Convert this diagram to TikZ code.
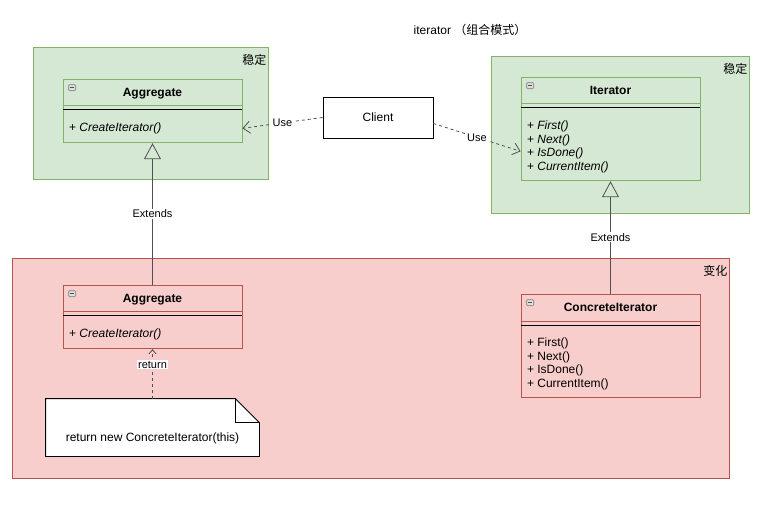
\documentclass[tikz,border=0pt]{standalone}
\usepackage{fontspec}
\setmainfont{Liberation Sans}
\newfontfamily\cjk{Noto Sans CJK SC}
\usetikzlibrary{positioning, arrows.meta, calc}
\definecolor{Stable-fill}{RGB}{213,232,212}
\definecolor{Stable-line}{RGB}{130,179,102}
\definecolor{Change-fill}{RGB}{248,206,204}
\definecolor{Change-line}{RGB}{184,84,80}
\definecolor{Link}{RGB}{80,80,80}

\tikzset{
  zone/.style={draw=#1-line, fill=#1-fill, rectangle, anchor=north west, inner sep=0pt},
  zonetag/.style={anchor=north east, inner sep=2pt, yshift=-5pt, font=\fontsize{12}{14}\selectfont\cjk},
  classhead/.style={draw=#1, rectangle, minimum width=179pt, minimum height=26pt, inner sep=0pt, text height=8.6pt, text depth=0pt, font=\fontsize{12}{14}\selectfont\bfseries},
  classbody/.style={draw=#1, rectangle, minimum width=179pt, inner sep=0pt},
  members/.style={anchor=north west, inner sep=0pt, align=left, font=\fontsize{12}{13.7}\selectfont},
  collapse/.style={draw=gray!80, fill=gray!25, rounded corners=1pt, minimum width=7pt, minimum height=6pt, inner sep=0pt,
    path picture={\draw[line width=0.8pt, black!70] ([xshift=1.5pt]path picture bounding box.west) -- ([xshift=-1.5pt]path picture bounding box.east);}},
  lbl/.style={fill=white, inner sep=1pt, font=\fontsize{11}{13}\selectfont},
  extends/.style={draw=Link, line width=1.2pt, -{Triangle[open, length=16pt, width=17pt, line width=0.8pt]}},
  uses/.style={draw=Link, dashed, -{Straight Barb[length=7pt, width=12pt]}},
}

\begin{document}
\begin{tikzpicture}[x=1pt, y=-1pt, line width=0.8pt]
      \useasboundingbox (0,0) rectangle (767,511);

      \node[font=\fontsize{12}{14}\selectfont] (title) at (470,30) {iterator \cjk（组合模式）};

      \node[zone=Stable, minimum width=235pt, minimum height=132pt, label={[zonetag]north east:稳定}] (stableleft)  at ( 33, 47) {};
      \node[zone=Stable, minimum width=258pt, minimum height=157pt, label={[zonetag]north east:稳定}] (stableright) at (491, 56) {};
      \node[zone=Change, minimum width=717pt, minimum height=220pt, label={[zonetag]north east:变化}] (change)      at ( 12,258) {};

      % abstract side
      \node[classhead=Stable-line] (agghead) at (152.5, 92) {Aggregate};
      \node[classbody=Stable-line, minimum height=37pt, below=0pt of agghead] (aggbody) {};
      \node[members] (aggmem) at ([xshift=6pt, yshift=-17pt]agghead.south west) {+ \textit{CreateIterator()}};
      \node[collapse] (aggmin) at ([xshift=9.5pt, yshift=-9pt]agghead.north west) {};
      \draw ([yshift=-4pt]agghead.south west) -- ([yshift=-4pt]agghead.south east);

      \node[classhead=Stable-line] (ithead) at (610.5, 90) {Iterator};
      \node[classbody=Stable-line, minimum height=77pt, below=0pt of ithead] (itbody) {};
      \node[members] (itmem) at ([xshift=6pt, yshift=-17pt]ithead.south west) {+ \textit{First()}\\+ \textit{Next()}\\+ \textit{IsDone()}\\+ \textit{CurrentItem()}};
      \node[collapse] (itmin) at ([xshift=9.5pt, yshift=-9pt]ithead.north west) {};
      \draw ([yshift=-4pt]ithead.south west) -- ([yshift=-4pt]ithead.south east);

      \node[draw, minimum width=110pt, minimum height=41pt, font=\fontsize{12}{14}\selectfont] (client) at (378,117.5) {Client};

      % concrete side
      \node[classhead=Change-line] (caghead) at (152.5,298) {Aggregate};
      \node[classbody=Change-line, minimum height=37pt, below=0pt of caghead] (cagbody) {};
      \node[members] (cagmem) at ([xshift=6pt, yshift=-17pt]caghead.south west) {+ \textit{CreateIterator()}};
      \node[collapse] (cagmin) at ([xshift=9.5pt, yshift=-9pt]caghead.north west) {};
      \draw ([yshift=-4pt]caghead.south west) -- ([yshift=-4pt]caghead.south east);

      \node[classhead=Change-line, minimum height=27pt] (cithead) at (610.5,307.5) {ConcreteIterator};
      \node[classbody=Change-line, minimum height=76pt, below=0pt of cithead] (citbody) {};
      \node[members] (citmem) at ([xshift=6pt, yshift=-16pt]cithead.south west) {+ First()\\+ Next()\\+ IsDone()\\+ CurrentItem()};
      \node[collapse] (citmin) at ([xshift=9.5pt, yshift=-9pt]cithead.north west) {};
      \draw ([yshift=-4pt]cithead.south west) -- ([yshift=-4pt]cithead.south east);

      % note
      \node[minimum width=213pt, minimum height=57pt, inner sep=0pt] (note) at (152.5,427.5) {};
      \draw[fill=white] (note.north west) -- ([xshift=-24pt]note.north east) -- ([yshift=-24pt]note.north east) -- (note.south east) -- (note.south west) -- cycle;
      \draw ([xshift=-24pt]note.north east) |- ([yshift=-24pt]note.north east);
      \node[font=\fontsize{12}{14}\selectfont] (notetext) at ([yshift=-10.5pt]note.center) {return new ConcreteIterator(this)};

      \draw[uses] (client.west) -- ([yshift=-4pt]aggbody.east) node [midway, lbl] {Use};
      \draw[uses] ([yshift=-6pt]client.east) -- ([yshift=-9pt]itbody.west) node [midway, lbl] {Use};
      \draw[extends] (caghead.north) -- (aggbody.south) node [midway, lbl] {Extends};
      \draw[extends] (cithead.north) -- (itbody.south) node [midway, lbl] {Extends};
      \draw[draw=Link, dashed, -{Straight Barb[length=4pt, width=7pt]}] (note.north) -- (cagbody.south) node [pos=0.69, lbl] {return};
    \end{tikzpicture}
\end{document}
